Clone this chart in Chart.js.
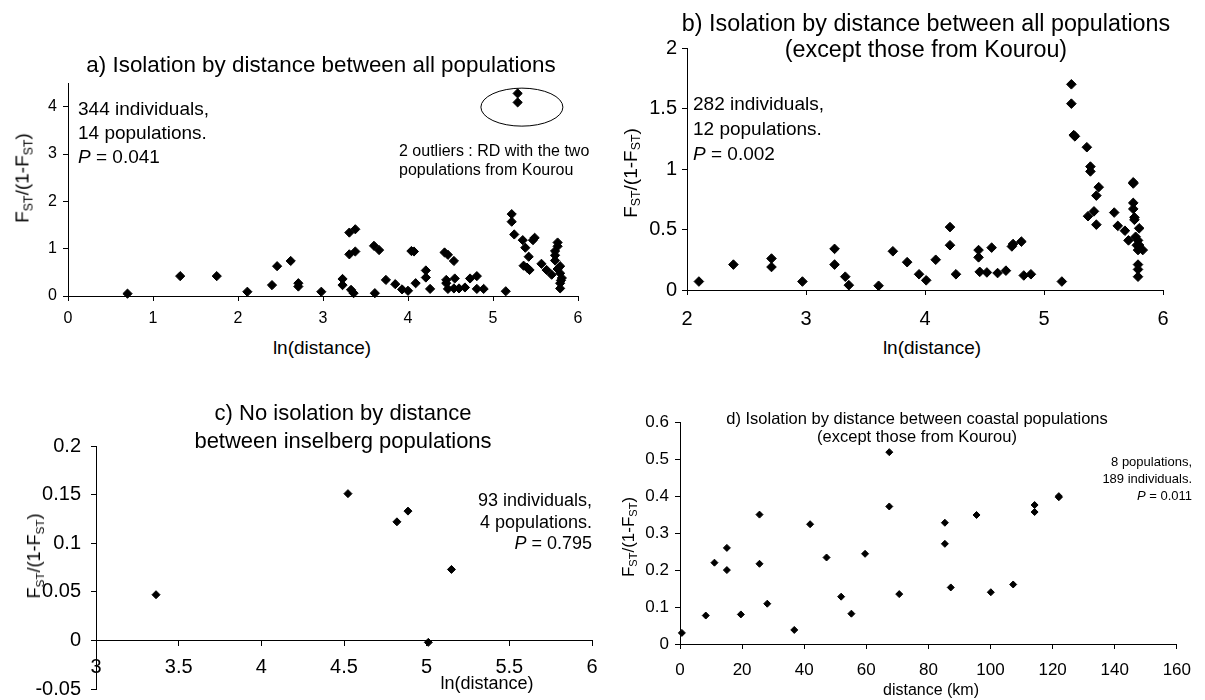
<!DOCTYPE html>
<html>
<head>
<meta charset="utf-8">
<script src="https://cdn.jsdelivr.net/npm/chart.js@4.4.1/dist/chart.umd.min.js"></script>
<style>
  body { margin:0; background:#fff; }
  #page { position:relative; width:1205px; height:700px; overflow:hidden;
          font-family:"Liberation Sans", Arial, sans-serif; color:#000; }
  canvas { position:absolute; }
  .t { position:absolute; white-space:nowrap; line-height:1; z-index:2; }
  .t i { font-style:italic; }
  .t sub { font-size:65%; vertical-align:-0.3em; line-height:0; }
</style>
</head>
<body>
<div id="page">
  <canvas id="chA"></canvas>
  <canvas id="chB"></canvas>
  <canvas id="chC"></canvas>
  <canvas id="chD"></canvas>
</div>
<script>
/* ── Data: ln(distance) / distance vs FST/(1-FST) ── */
const distA = [0.70,1.32,1.75,2.11,2.40,2.46,2.62,2.71,2.71,2.98,3.23,3.23,3.31,3.38,3.31,3.38,3.33,3.36,
  3.60,3.66,3.61,3.74,3.85,3.93,4.00,4.04,4.07,4.09,4.21,4.21,4.26,4.43,4.47,4.54,4.45,4.45,4.47,4.55,
  4.54,4.60,4.67,4.73,4.81,4.81,4.89,5.15,5.22,5.22,5.25,5.29,5.29,5.35,5.38,5.47,5.49,5.42,5.36,5.43,
  5.40,5.57,5.63,5.69,5.76,5.76,5.73,5.73,5.73,5.79,5.79,5.81,5.79,5.79,5.76,5.80];
const fstA  = [0.05,0.42,0.42,0.09,0.23,0.63,0.74,0.27,0.20,0.09,0.36,0.23,1.34,1.41,0.88,0.94,0.13,0.06,
  1.06,0.97,0.06,0.34,0.25,0.14,0.11,0.95,0.94,0.27,0.54,0.39,0.15,0.92,0.87,0.74,0.34,0.27,0.15,0.37,
  0.16,0.16,0.18,0.37,0.42,0.15,0.15,0.10,1.73,1.57,1.30,4.28,4.09,1.18,1.02,1.18,1.23,0.83,0.64,0.55,
  0.60,0.68,0.55,0.45,1.13,1.05,0.95,0.86,0.75,0.63,0.48,0.38,0.27,0.16,0.57,0.33];

const distB = [2.10,2.39,2.71,2.71,2.97,3.24,3.24,3.33,3.36,3.61,3.73,3.85,3.95,4.01,4.09,4.21,4.21,4.26,
  4.45,4.45,4.46,4.52,4.56,4.61,4.68,4.73,4.74,4.81,4.83,4.89,5.15,5.23,5.23,5.25,5.26,5.36,5.39,5.39,
  5.46,5.44,5.42,5.37,5.44,5.59,5.62,5.68,5.71,5.75,5.75,5.75,5.75,5.76,5.76,5.80,5.77,5.79,5.78,5.80,
  5.83,5.79,5.79,5.79,5.79];
const fstB  = [0.07,0.21,0.26,0.19,0.07,0.34,0.21,0.11,0.04,0.035,0.32,0.23,0.13,0.08,0.25,0.52,0.37,0.13,
  0.33,0.27,0.15,0.145,0.35,0.14,0.16,0.36,0.38,0.40,0.12,0.13,0.07,1.70,1.54,1.28,1.27,1.18,1.02,0.98,
  0.85,0.78,0.65,0.61,0.54,0.64,0.53,0.49,0.41,0.89,0.88,0.72,0.67,0.60,0.58,0.51,0.44,0.41,0.37,0.37,
  0.33,0.33,0.21,0.17,0.11];

const distC = [3.363,4.524,4.82,4.887,5.15,5.01];
const fstC  = [0.047,0.151,0.122,0.133,0.073,-0.002];

const kmD  = [0.6,8.3,11.1,15.1,15.1,19.6,25.6,25.6,28.1,36.8,41.9,47.2,51.9,55.2,59.6,67.4,67.4,70.6,
  85.3,85.3,87.2,95.5,100.1,107.3,114.2,114.2,122,122];
const fstD = [0.03,0.077,0.22,0.26,0.20,0.08,0.35,0.217,0.109,0.038,0.324,0.234,0.128,0.082,0.244,0.519,
  0.372,0.135,0.328,0.271,0.153,0.349,0.14,0.161,0.376,0.357,0.40,0.397];

const FONT = '"Liberation Sans", Arial, sans-serif';
const pts = (xs, ys) => xs.map((x, i) => ({ x, y: ys[i] }));
const fmt = v => String(+v.toFixed(2));

/* ── Outlier ellipse for panel a ── */
const ellipsePlugin = {
  id: 'outlierRing',
  afterDatasetsDraw(chart) {
    const { ctx, scales: { x, y } } = chart;
    ctx.save();
    ctx.strokeStyle = '#000';
    ctx.lineWidth = 1;
    ctx.beginPath();
    ctx.ellipse(x.getPixelForValue(5.34), y.getPixelForValue(3.99), 41, 19, 0, 0, Math.PI * 2);
    ctx.stroke();
    ctx.restore();
  }
};

function axis(o) {
  const a = {
    type: 'linear', min: o.min, max: o.max,
    grid: { drawOnChartArea: false, drawTicks: true, tickLength: 5, color: '#000', lineWidth: 1 },
    border: { display: true, color: '#000', width: 1 },
    ticks: { stepSize: o.step, autoSkip: false, color: '#000', padding: o.pad,
             font: { family: FONT, size: o.size }, callback: fmt }
  };
  if (o.position) a.position = o.position;
  if (o.keepTo != null) a.afterBuildTicks = s => { s.ticks = s.ticks.filter(t => t.value <= o.keepTo + 1e-9); };
  if (o.fit) a.afterFit = o.fit;
  return a;
}

/* box = plot area in page px; ml/mb = room for y/x tick labels */
function makeChart(id, box, xs, ys, r, xo, yo, plugins) {
  const ml = 60, mt = 16, mr = 18, mb = 40;
  const el = document.getElementById(id);
  const w = box.r - box.l + ml + mr, h = box.b - box.t + mt + mb;
  el.width = w; el.height = h;
  el.style.left = (box.l - ml) + 'px';
  el.style.top = (box.t - mt) + 'px';
  const xFloat = !!xo.position;
  if (!xFloat) xo.fit = s => { s.height = mb; };
  yo.fit = s => { s.width = ml; };
  return new Chart(el, {
    type: 'scatter',
    data: { datasets: [{
      data: pts(xs, ys), pointStyle: 'rectRot', pointRadius: r, pointHoverRadius: r,
      backgroundColor: '#000', borderColor: '#000', borderWidth: 1, clip: false
    }] },
    options: {
      responsive: false, animation: false, devicePixelRatio: 1,
      layout: { padding: { left: 0, top: mt, right: mr, bottom: xFloat ? mb : 0 } },
      plugins: { legend: { display: false }, tooltip: { enabled: false } },
      scales: { x: axis(xo), y: axis(yo) }
    },
    plugins: plugins || []
  });
}

makeChart('chA', { l: 68, t: 83, r: 578, b: 296 }, distA, fstA, 4.6,
  { min: 0, max: 6, step: 1, size: 16, pad: 8 },
  { min: 0, max: 4.5, step: 1, size: 16, pad: 6 , keepTo: 4 }, [ellipsePlugin]);

makeChart('chB', { l: 687, t: 47, r: 1163, b: 290 }, distB, fstB, 4.8,
  { min: 2, max: 6, step: 1, size: 20, pad: 12 },
  { min: 0, max: 2, step: 0.5, size: 20, pad: 5 });

makeChart('chC', { l: 96, t: 440, r: 592, b: 689 }, distC, fstC, 4,
  { min: 3, max: 6, step: 0.5, size: 20, pad: 10, position: { y: 0 } },
  { min: -0.05, max: 0.2, step: 0.05, size: 20, pad: 10 });

makeChart('chD', { l: 680, t: 422, r: 1184, b: 644 }, kmD, fstD, 3.5,
  { min: 0, max: 160, step: 20, size: 17, pad: 11 },
  { min: 0, max: 0.6, step: 0.1, size: 17, pad: 6 });

/* ── Text: titles, axis titles, notes ── */
const page = document.getElementById('page');
function txt(x, y, html, size, align, rot) {
  const d = document.createElement('div');
  d.className = 't';
  d.innerHTML = html;
  d.style.left = x + 'px';
  d.style.top = y + 'px';
  d.style.fontSize = size + 'px';
  const tx = align === 'left' ? '0' : align === 'right' ? '-100%' : '-50%';
  d.style.transform = `translate(${tx},-50%)` + (rot ? ' rotate(-90deg)' : '');
  page.appendChild(d);
}
const FST = 'F<sub>ST</sub>/(1-F<sub>ST</sub>)';

txt(321, 65, 'a) Isolation by distance between all populations', 22.4);
txt(926, 24, 'b) Isolation by distance between all populations', 23.3);
txt(926, 50, '(except those from Kourou)', 23.3);
txt(343, 413, 'c) No isolation by distance', 22);
txt(343, 441, 'between inselberg populations', 22);
txt(917, 418, 'd) Isolation by distance between coastal populations', 16.5);
txt(917, 436, '(except those from Kourou)', 16.5);

txt(22, 178, FST, 19, 'center', true);
txt(630, 173, FST, 19, 'center', true);
txt(34, 556, FST, 18, 'center', true);
txt(628, 537, FST, 17, 'center', true);

txt(322, 347, 'ln(distance)', 19);
txt(932, 347, 'ln(distance)', 19);
txt(487, 683, 'ln(distance)', 18);
txt(931, 690, 'distance (km)', 16);

txt(78, 108, '344 individuals,', 19, 'left');
txt(78, 132, '14 populations.', 19, 'left');
txt(78, 156, '<i>P</i> = 0.041', 19, 'left');
txt(399, 151, '2 outliers : RD with the two', 16, 'left');
txt(399, 170, 'populations from Kourou', 16, 'left');

txt(693, 103, '282 individuals,', 19, 'left');
txt(693, 128, '12 populations.', 19, 'left');
txt(693, 153, '<i>P</i> = 0.002', 19, 'left');

txt(592, 500, '93 individuals,', 18, 'right');
txt(592, 522, '4 populations.', 18, 'right');
txt(592, 543, '<i>P</i> = 0.795', 18, 'right');

txt(1192, 461, '8 populations,', 13, 'right');
txt(1192, 478, '189 individuals.', 13, 'right');
txt(1192, 495, '<i>P</i> = 0.011', 13, 'right');
</script>
</body>
</html>
